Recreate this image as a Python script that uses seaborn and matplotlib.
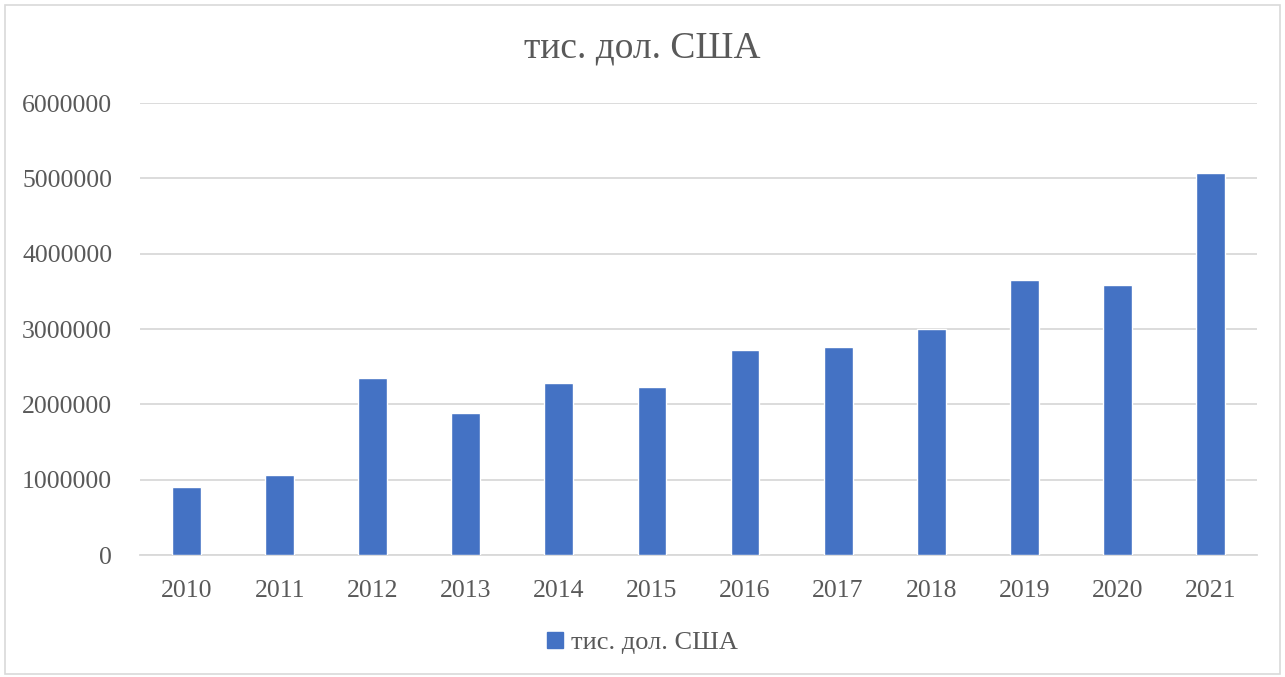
"""
Bar chart: тис. дол. США by year, 2010-2021.
"""

import matplotlib.pyplot as plt
import seaborn as sns
import pandas as pd
from matplotlib.patches import Rectangle

years = ["2010", "2011", "2012", "2013", "2014", "2015",
         "2016", "2017", "2018", "2019", "2020", "2021"]
values = [905000, 1065000, 2355000, 1890000, 2285000, 2230000,
          2715000, 2760000, 3000000, 3655000, 3590000, 5070000]
series_name = "тис. дол. США"
yticks = [0, 1000000, 2000000, 3000000, 4000000, 5000000, 6000000]

bar_color = "#4472C4"
text_color = "#595959"
grid_color = "#D9D9D9"

sns.set_style("white")
plt.rcParams['font.family'] = ['Liberation Serif', 'DejaVu Serif']

df = pd.DataFrame({"year": years, "value": values, "series": series_name})

fig = plt.figure(figsize=(12.85, 6.77), dpi=100)
ax = fig.add_axes([140 / 1285, 1 - 555 / 677, 1117 / 1285, 452 / 677])

sns.barplot(data=df, x="year", y="value", hue="series", palette=[bar_color],
            saturation=1, width=0.31, ax=ax, legend=False, zorder=3)

ax.set_ylim(0, 6000000)
ax.set_yticks(yticks)
ax.set_yticklabels([str(v) for v in yticks])
ax.set_xlim(-0.5, len(years) - 0.5)
ax.yaxis.grid(True, color=grid_color, linewidth=1.3, zorder=0)
ax.set_axisbelow(True)
for side in ["top", "right", "left"]:
    ax.spines[side].set_visible(False)
ax.spines["bottom"].set_color(grid_color)
ax.spines["bottom"].set_linewidth(1.3)
ax.tick_params(axis="both", length=0, labelsize=18.5, colors=text_color)
ax.tick_params(axis="y", pad=20)
ax.tick_params(axis="x", pad=18)
ax.set_xlabel("")
ax.set_ylabel("")

fig.text(0.5, 1 - 48 / 677, series_name, ha="center", va="center",
         fontsize=27, color=text_color)

handle = Rectangle((0, 0), 1, 1, color=bar_color)
fig.legend([handle], [series_name], loc="center", bbox_to_anchor=(0.5, 1 - 643 / 677),
           frameon=False, fontsize=19, labelcolor=text_color,
           handlelength=0.6, handleheight=0.6, handletextpad=0.3)

# chart frame
fig.patches.append(Rectangle((5 / 1285, 3 / 677), 1275 / 1285, 669 / 677,
                             transform=fig.transFigure, fill=False,
                             edgecolor="#D9D9D9", linewidth=1.2))

fig.savefig("out.png", dpi=100)
